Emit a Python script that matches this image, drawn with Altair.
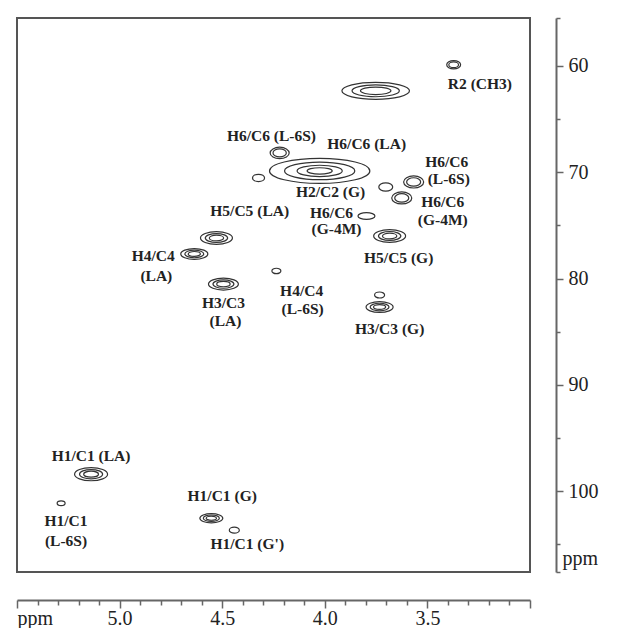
import altair as alt
import pandas as pd

# ---- peak (cross-peak) data: 1H ppm, 13C ppm, extent along 1H (ppm), outline type, number of contour levels
peak_id = ["R2", "R-cluster", "H6C6-L6S", "H2C2-G", "minor-1", "H6C6-L6S-b", "H6C6-G4M-b",
           "H6C6-G4M-c", "H6C6-G4M", "H5C5-G", "H5C5-LA", "H4C4-LA", "H3C3-LA", "H4C4-L6S",
           "H3C3-G", "H3C3-G-b", "H1C1-LA", "H1C1-L6S", "H1C1-G", "H1C1-G2"]
peak_h = [3.372, 3.752, 4.220, 4.025, 4.323, 3.567, 3.625, 3.703, 3.797, 3.684, 4.528, 4.636,
          4.494, 4.236, 3.733, 3.733, 5.139, 5.285, 4.553, 4.441]
peak_c = [59.9, 62.35, 68.19, 69.88, 70.54, 70.92, 72.42, 71.39, 74.12, 76.0, 76.19, 77.69,
          80.52, 79.29, 82.68, 81.55, 98.40, 101.13, 102.54, 103.67]
peak_w = [0.068, 0.33, 0.093, 0.49, 0.059, 0.098, 0.098, 0.068, 0.083, 0.156, 0.156, 0.132,
          0.146, 0.044, 0.132, 0.049, 0.161, 0.039, 0.112, 0.049]
peak_kind = ["round", "flat", "round", "flat", "round", "round", "round", "round", "oval", "oval",
             "oval", "oval", "oval", "round", "oval", "round", "oval", "round", "oval", "round"]
peak_levels = [2, 3, 2, 4, 1, 2, 2, 1, 1, 3, 3, 3, 3, 1, 3, 1, 3, 1, 3, 1]
level_scale = [1.0, 0.7, 0.45, 0.25]

# ---- assignment labels (one row per text line)
label_text = ["R2 (CH3)", "H6/C6 (L-6S)", "H6/C6 (LA)", "H2/C2 (G)", "H6/C6", "(L-6S)",
              "H6/C6", "(G-4M)", "H5/C5 (LA)", "H6/C6", "(G-4M)", "H4/C4", "(LA)",
              "H5/C5 (G)", "H3/C3", "(LA)", "H4/C4", "(L-6S)", "H3/C3 (G)", "H1/C1 (LA)",
              "H1/C1", "(L-6S)", "H1/C1 (G)", "H1/C1 (G')"]
label_h = [3.244, 4.260, 3.796, 3.972, 3.406, 3.396, 3.425, 3.425, 4.366, 3.967, 3.943, 4.836,
           4.821, 3.640, 4.494, 4.484, 4.113, 4.108, 3.684, 5.139, 5.261, 5.261, 4.500, 4.378]
label_c = [61.69, 66.59, 67.34, 71.9, 69.0, 70.6, 72.85, 74.45, 73.65, 73.8, 75.35, 77.88,
           79.76, 78.07, 82.31, 84.0, 81.18, 82.87, 84.75, 96.71, 102.82, 104.71, 100.47, 104.99]

# ---- axes
x_ticks = [3.0, 3.1, 3.2, 3.3, 3.4, 3.5, 3.6, 3.7, 3.8, 3.9, 4.0, 4.1, 4.2, 4.3, 4.4, 4.5,
           4.6, 4.7, 4.8, 4.9, 5.0, 5.1, 5.2, 5.3, 5.4, 5.5]
x_labels = [5.0, 4.5, 4.0, 3.5]
y_ticks = [55.5, 60, 65, 70, 75, 80, 85, 90, 95, 100, 105, 107.6]
y_labels = [60, 70, 80, 90, 100]

rows = []
for i in range(len(peak_id)):
    for k in range(peak_levels[i]):
        rows.append({"peak": peak_id[i], "h": peak_h[i], "c": peak_c[i],
                     "w": peak_w[i] * level_scale[k], "kind": peak_kind[i]})
peaks = pd.DataFrame(rows)
labels = pd.DataFrame({"text": label_text, "h": label_h, "c": label_c})

x_label_test = " || ".join(f"datum.value == {v}" for v in x_labels)
y_label_test = " || ".join(f"datum.value == {v}" for v in y_labels)

x_enc = alt.X("h:Q",
              scale=alt.Scale(domain=[3.0, 5.5], reverse=True, nice=False, zero=False),
              axis=alt.Axis(values=x_ticks, offset=28, grid=False,
                            labelExpr=f"({x_label_test}) ? format(datum.value, '.1f') : ''",
                            tickSize={"condition": {"test": "abs(datum.value*2 - round(datum.value*2)) < 0.01",
                                                    "value": 8}, "value": 5},
                            labelPadding=0, labelBaseline="top",
                            title="ppm", titleX=0, titleY=8, titleAlign="left",
                            titleBaseline="top", titleAnchor="start"))
y_enc = alt.Y("c:Q",
              scale=alt.Scale(domain=[55.5, 107.6], reverse=True, nice=False, zero=False),
              axis=alt.Axis(orient="right", values=y_ticks, offset=26, grid=False,
                            labelExpr=f"({y_label_test}) ? format(datum.value, 'd') : ''",
                            tickSize={"condition": {"test": f"{y_label_test}", "value": 7},
                                      "value": 4},
                            labelPadding=5,
                            title="ppm", titleAngle=0, titleX=6, titleY=540,
                            titleAlign="left", titleBaseline="middle"))

contours = alt.Chart(peaks).mark_point(filled=False, strokeWidth=1.2, opacity=1,
                                       color="#333333").encode(
    x=x_enc, y=y_enc,
    size=alt.Size("w:Q", scale=alt.Scale(type="pow", exponent=2, domain=[0, 0.5],
                                         range=[0, 10486]), legend=None),
    shape=alt.Shape("kind:N", scale=alt.Scale(
        domain=["round", "oval", "flat"],
        range=["M-1,0A1,0.6 0 1,0 1,0A1,0.6 0 1,0 -1,0",
               "M-1,0A1,0.4 0 1,0 1,0A1,0.4 0 1,0 -1,0",
               "M-1,0A1,0.25 0 1,0 1,0A1,0.25 0 1,0 -1,0"]), legend=None),
    detail="peak:N",
)

texts = alt.Chart(labels).mark_text(font="Liberation Serif", fontWeight="bold", fontSize=15.5,
                                    color="#222222", align="center", baseline="middle").encode(
    x=x_enc, y=y_enc, text="text:N")

chart = alt.layer(contours, texts).properties(
    width=513, height=554,
    padding={"left": 16, "top": 17, "right": 5, "bottom": 0},
).configure_view(stroke="#555555", strokeWidth=2).configure_axis(
    domainColor="#666666", domainWidth=2, tickColor="#666666", tickWidth=1.5,
    labelFont="Liberation Serif", labelFontSize=20, labelColor="#222222",
    titleFont="Liberation Serif", titleFontSize=20, titleFontWeight="normal",
    titleColor="#222222",
)

chart.save("out.html", embed_options={"renderer": "svg", "actions": False})
